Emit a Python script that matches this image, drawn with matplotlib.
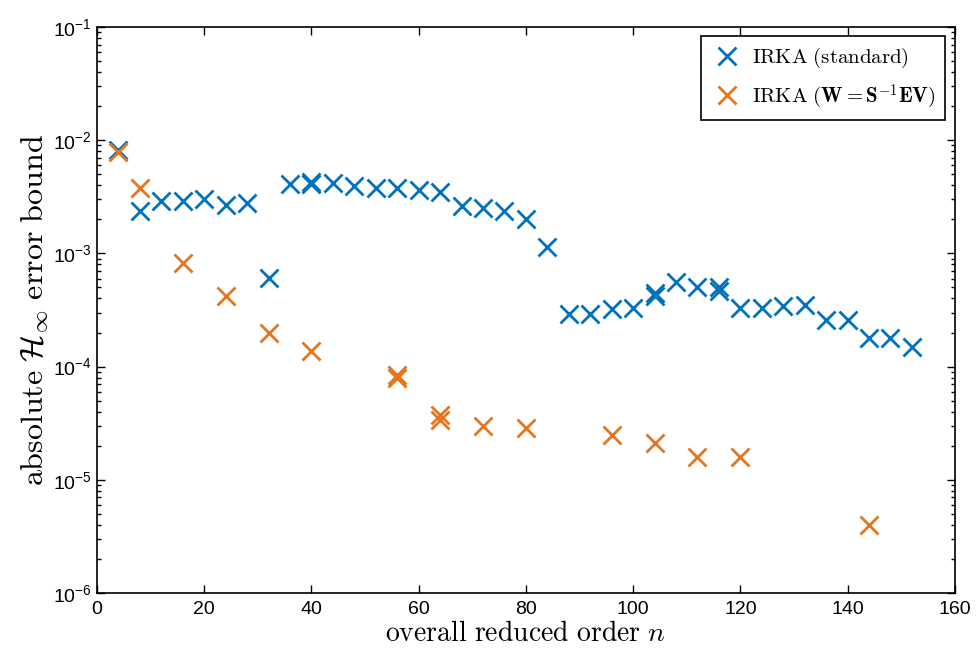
import numpy as np
import matplotlib
matplotlib.use('Agg')
import matplotlib.pyplot as plt

# IRKA (standard)
n_std = [4, 8, 12, 16, 20, 24, 28, 32, 36, 40, 40, 44, 48, 52, 56, 60, 64, 68, 72,
         76, 80, 84, 88, 92, 96, 100, 104, 104, 108, 112, 116, 116, 120, 124, 128,
         132, 136, 140, 144, 148, 152]
err_std = [8.2e-3, 2.35e-3, 2.9e-3, 2.9e-3, 3.0e-3, 2.7e-3, 2.8e-3, 6.1e-4, 4.1e-3,
           4.3e-3, 4.1e-3, 4.2e-3, 3.9e-3, 3.8e-3, 3.75e-3, 3.65e-3, 3.5e-3, 2.6e-3,
           2.5e-3, 2.35e-3, 2.0e-3, 1.15e-3, 2.9e-4, 2.9e-4, 3.2e-4, 3.3e-4, 4.5e-4,
           4.2e-4, 5.6e-4, 5.0e-4, 5.0e-4, 4.7e-4, 3.3e-4, 3.3e-4, 3.4e-4, 3.5e-4,
           2.6e-4, 2.6e-4, 1.8e-4, 1.8e-4, 1.48e-4]

# IRKA (W = S^-1 E V)
n_new = [4, 8, 16, 24, 32, 40, 56, 56, 64, 64, 72, 80, 96, 104, 112, 120, 144]
err_new = [7.8e-3, 3.8e-3, 8.2e-4, 4.2e-4, 2.0e-4, 1.37e-4, 8.4e-5, 7.9e-5, 3.7e-5,
           3.4e-5, 3.0e-5, 2.85e-5, 2.5e-5, 2.1e-5, 1.6e-5, 1.6e-5, 4.0e-6]

plt.rcParams['mathtext.fontset'] = 'cm'
plt.rcParams['font.family'] = ['Liberation Sans Narrow', 'Liberation Sans', 'DejaVu Sans']

fig = plt.figure(figsize=(9.77, 6.6), dpi=100)
ax = fig.add_axes([0.0993, 0.1015, 0.878, 0.8576])

ax.plot(n_std, err_std, 'x', color='#0072BD', markersize=13, markeredgewidth=2.0,
        label=r'$\mathrm{IRKA\ (standard)}$')
ax.plot(n_new, err_new, 'x', color='#E3761F', markersize=13, markeredgewidth=2.0,
        label=r'$\mathrm{IRKA\ (}\mathbf{W}=\mathbf{S}^{-1}\mathbf{EV}\mathrm{)}$')

ax.set_yscale('log')
ax.set_xlim(0, 160)
ax.set_ylim(1e-6, 1e-1)
ax.set_xticks(np.arange(0, 161, 20))
ax.tick_params(which='both', direction='in', top=True, right=True, labelsize=14)
ax.tick_params(axis='x', pad=6)
ax.tick_params(which='major', length=6, width=1)
ax.tick_params(which='minor', length=3, width=1)
for s in ax.spines.values():
    s.set_linewidth(1.2)

ax.set_xlabel(r'$\mathrm{overall\ reduced\ order}\ n$', fontsize=20, labelpad=2)
ax.set_ylabel(r'$\mathrm{absolute}\ \mathcal{H}_\infty\ \mathrm{error\ bound}$', fontsize=23,
              labelpad=2)

leg = ax.legend(loc='upper right', fontsize=15, fancybox=False, framealpha=1,
                edgecolor='black', borderpad=0.45, handletextpad=0.4, labelspacing=0.6,
                handlelength=1.6, borderaxespad=0.45)
leg.get_frame().set_linewidth(1.2)

fig.savefig('out.png', dpi=100)
